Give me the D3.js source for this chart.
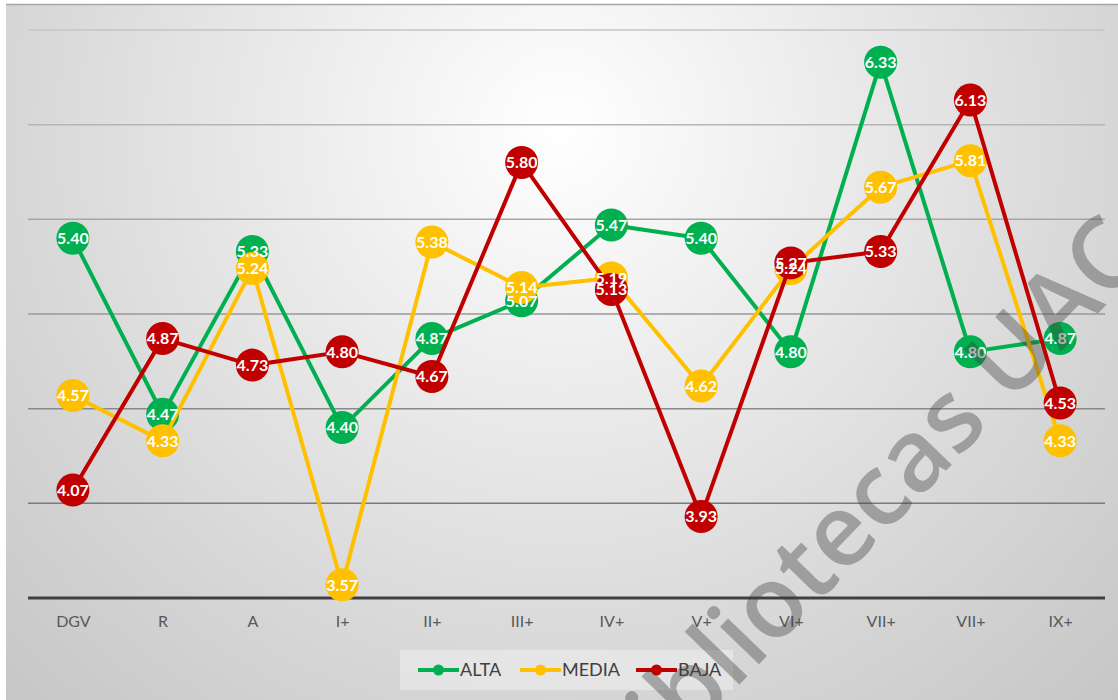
<!DOCTYPE html>
<html>
<head>
<meta charset="utf-8">
<script src="https://cdn.jsdelivr.net/npm/d3@7"></script>
<style>
  html, body { margin: 0; padding: 0; background: #ffffff; }
  svg { display: block; }
</style>
</head>
<body>
<svg id="chart" width="1118" height="700"></svg>
<script>
// Categories along the horizontal axis
const categories = ["DGV", "R", "A", "I+", "II+", "III+", "IV+", "V+", "VI+", "VII+", "VII+", "IX+"];

// Series values (one per category)
const alta  = [5.40, 4.47, 5.33, 4.40, 4.87, 5.07, 5.47, 5.40, 4.80, 6.33, 4.80, 4.87];
const media = [4.57, 4.33, 5.24, 3.57, 5.38, 5.14, 5.19, 4.62, 5.24, 5.67, 5.81, 4.33];
const baja  = [4.07, 4.87, 4.73, 4.80, 4.67, 5.80, 5.13, 3.93, 5.27, 5.33, 6.13, 4.53];

const seriesNames = ["ALTA", "MEDIA", "BAJA"];
const seriesColors = ["#00b050", "#ffc000", "#c00000"];

// Value gridlines
const gridValues = [4.0, 4.5, 5.0, 5.5, 6.0, 6.5];

const series = [
  { name: seriesNames[0], values: alta,  color: seriesColors[0] },
  { name: seriesNames[1], values: media, color: seriesColors[1] },
  { name: seriesNames[2], values: baja,  color: seriesColors[2] }
];

const svg = d3.select("#chart");
const W = 1118, H = 700;

// Background panel with soft radial shading
const defs = svg.append("defs");
const bg = defs.append("radialGradient")
  .attr("id", "bgShade")
  .attr("gradientUnits", "userSpaceOnUse")
  .attr("cx", 560).attr("cy", 130).attr("r", 800);
bg.append("stop").attr("offset", 0).attr("stop-color", "#ffffff");
bg.append("stop").attr("offset", 0.7).attr("stop-color", "#d6d6d6");
bg.append("stop").attr("offset", 1).attr("stop-color", "#c6c6c6");

svg.append("rect")
  .attr("x", 6).attr("y", 4).attr("width", W - 6).attr("height", H - 4)
  .attr("fill", "url(#bgShade)");
svg.append("line")
  .attr("x1", 6).attr("x2", W).attr("y1", 4.5).attr("y2", 4.5)
  .attr("stroke", "#a8a8a8").attr("stroke-width", 1.5);

// Scales
const x = d3.scaleBand().domain(d3.range(categories.length)).range([28, 1105]);
const y = d3.scaleLinear().domain([3.5, 6.5]).range([598, 30]);
const cx = i => x(i) + x.bandwidth() / 2;

// Gridlines (lighter near the top)
const gridShade = d3.scaleLinear().domain([6.5, 4.0]).range(["#c4c4c4", "#7a7a7a"]);
svg.append("g").selectAll("line")
  .data(gridValues)
  .join("line")
  .attr("x1", 28).attr("x2", 1105)
  .attr("y1", d => y(d)).attr("y2", d => y(d))
  .attr("stroke", d => gridShade(d))
  .attr("stroke-width", 1.5);

// Category axis
const xAxis = d3.axisBottom(d3.scalePoint().domain(d3.range(categories.length)).range([cx(0), cx(categories.length - 1)]))
  .tickSize(0)
  .tickPadding(18)
  .tickFormat(i => categories[i]);
const axisG = svg.append("g").attr("transform", `translate(0,${y(3.5)})`).call(xAxis);
axisG.select(".domain").remove();
axisG.selectAll("text")
  .attr("font-family", "Lato, 'Open Sans', sans-serif")
  .attr("font-size", 16)
  .attr("fill", "#595959");
svg.append("line")
  .attr("x1", 28).attr("x2", 1105)
  .attr("y1", y(3.5)).attr("y2", y(3.5))
  .attr("stroke", "#404040").attr("stroke-width", 3);

// Lines and markers, one series at a time
const line = d3.line().x((d, i) => cx(i)).y(d => y(d));
series.forEach(s => {
  const g = svg.append("g");
  g.append("path")
    .attr("d", line(s.values))
    .attr("fill", "none")
    .attr("stroke", s.color)
    .attr("stroke-width", 4)
    .attr("stroke-linejoin", "round");
  g.selectAll("circle")
    .data(s.values)
    .join("circle")
    .attr("cx", (d, i) => cx(i))
    .attr("cy", d => y(d))
    .attr("r", 16.5)
    .attr("fill", s.color);
});

// Value labels on top of all markers
series.forEach(s => {
  svg.append("g").selectAll("text")
    .data(s.values)
    .join("text")
    .attr("x", (d, i) => cx(i))
    .attr("y", d => y(d))
    .attr("dy", "0.36em")
    .attr("text-anchor", "middle")
    .attr("font-family", "Lato, 'Open Sans', sans-serif")
    .attr("font-weight", 700)
    .attr("font-size", 16)
    .attr("fill", "#ffffff")
    .text(d => d.toFixed(2));
});

// Legend
const legend = svg.append("g");
legend.append("rect")
  .attr("x", 400).attr("y", 650).attr("width", 333).attr("height", 40)
  .attr("fill", "#ffffff").attr("fill-opacity", 0.35);
const legendX = [418, 520, 636];
series.forEach((s, k) => {
  const lg = legend.append("g").attr("transform", `translate(${legendX[k]},670)`);
  lg.append("line").attr("x1", 0).attr("x2", 41).attr("y1", 0).attr("y2", 0)
    .attr("stroke", s.color).attr("stroke-width", 4);
  lg.append("circle").attr("cx", 20.5).attr("cy", 0).attr("r", 5.5).attr("fill", s.color);
  lg.append("text").attr("x", 42).attr("y", 0).attr("dy", "0.36em")
    .attr("font-family", "Lato, 'Open Sans', sans-serif")
    .attr("font-size", 18)
    .attr("fill", "#404040")
    .text(s.name);
});

// Watermark
svg.append("text")
  .attr("transform", "translate(628,800) rotate(-46)")
  .attr("font-family", "'Open Sans', Lato, sans-serif")
  .attr("font-weight", 600)
  .attr("font-size", 100)
  .attr("fill", "#3c3c3c")
  .attr("fill-opacity", 0.38)
  .text("bibliotecas UAC");
</script>
</body>
</html>
